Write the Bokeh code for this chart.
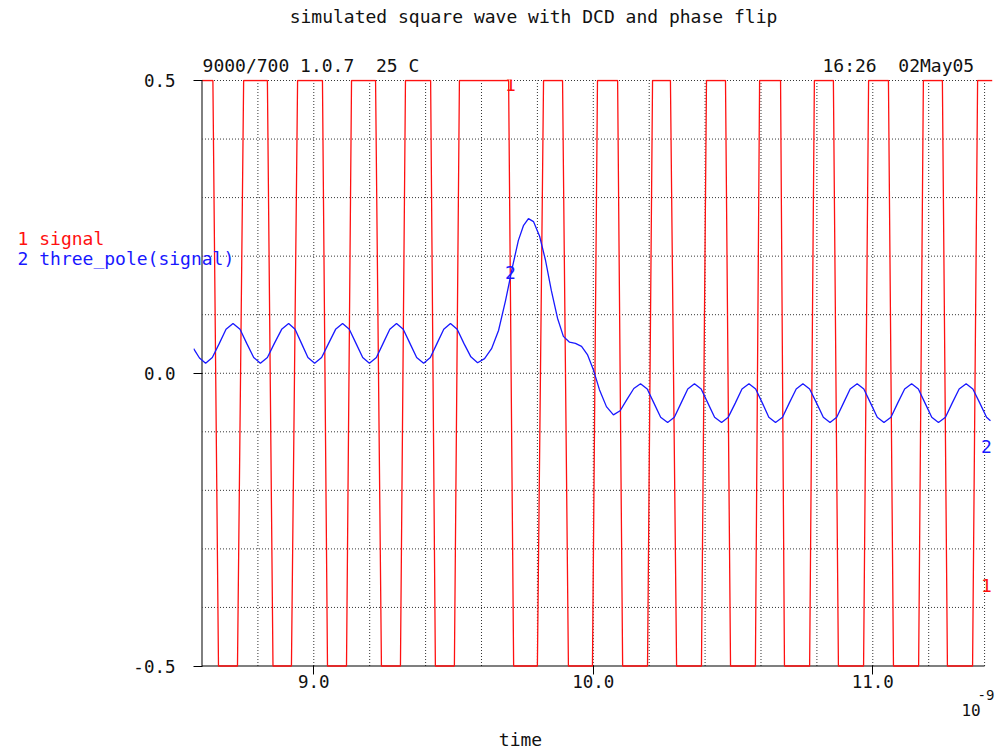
from bokeh.plotting import figure
from bokeh.models import Range1d, FixedTicker, Label, PrintfTickFormatter
from bokeh.embed import file_html
from bokeh.resources import INLINE

# ---- data (time in ns, values in V) ----
signal_t = [8.600, 8.639, 8.659, 8.727, 8.749, 8.834, 8.854, 8.920, 8.942, 9.031,
            9.049, 9.117, 9.135, 9.221, 9.242, 9.310, 9.328, 9.418, 9.435, 9.503,
            9.521, 9.697, 9.715, 9.800, 9.822, 9.890, 9.911, 9.997, 10.015, 10.087,
            10.105, 10.194, 10.212, 10.276, 10.298, 10.387, 10.405, 10.473, 10.491, 10.580,
            10.595, 10.670, 10.684, 10.774, 10.791, 10.859, 10.877, 10.967, 10.985, 11.056,
            11.074, 11.164, 11.181, 11.249, 11.267, 11.357, 11.375, 11.428]
signal_v = [0.5, 0.5, -0.5, -0.5, 0.5, 0.5, -0.5, -0.5, 0.5, 0.5,
            -0.5, -0.5, 0.5, 0.5, -0.5, -0.5, 0.5, 0.5, -0.5, -0.5,
            0.5, 0.5, -0.5, -0.5, 0.5, 0.5, -0.5, -0.5, 0.5, 0.5,
            -0.5, -0.5, 0.5, 0.5, -0.5, -0.5, 0.5, 0.5, -0.5, -0.5,
            0.5, 0.5, -0.5, -0.5, 0.5, 0.5, -0.5, -0.5, 0.5, 0.5,
            -0.5, -0.5, 0.5, 0.5, -0.5, -0.5, 0.5, 0.5]

filtered_t = [8.570, 8.591, 8.613, 8.637, 8.662, 8.686, 8.711, 8.736, 8.760, 8.785,
              8.809, 8.834, 8.859, 8.885, 8.910, 8.933, 8.956, 8.979, 9.003, 9.028,
              9.053, 9.078, 9.103, 9.127, 9.151, 9.175, 9.199, 9.224, 9.248, 9.272,
              9.296, 9.320, 9.344, 9.368, 9.393, 9.417, 9.441, 9.465, 9.489, 9.513,
              9.537, 9.562, 9.586, 9.611, 9.636, 9.661, 9.686, 9.711, 9.732, 9.750,
              9.768, 9.786, 9.808, 9.829, 9.850, 9.872, 9.893, 9.915, 9.936, 9.958,
              9.979, 10.001, 10.022, 10.047, 10.072, 10.096, 10.120, 10.145, 10.169, 10.193,
              10.217, 10.241, 10.266, 10.290, 10.314, 10.338, 10.362, 10.386, 10.410, 10.434,
              10.459, 10.483, 10.508, 10.532, 10.557, 10.581, 10.605, 10.628, 10.652, 10.677,
              10.701, 10.726, 10.750, 10.774, 10.799, 10.823, 10.847, 10.871, 10.895, 10.919,
              10.944, 10.968, 10.992, 11.016, 11.040, 11.065, 11.089, 11.114, 11.139, 11.163,
              11.187, 11.211, 11.235, 11.260, 11.284, 11.309, 11.334, 11.358, 11.383, 11.407,
              11.421]
filtered_v = [0.042, 0.026, 0.017, 0.027, 0.051, 0.075, 0.085, 0.075, 0.051, 0.027,
              0.017, 0.027, 0.051, 0.075, 0.085, 0.075, 0.051, 0.027, 0.017, 0.027,
              0.051, 0.075, 0.085, 0.075, 0.051, 0.027, 0.017, 0.027, 0.051, 0.075,
              0.085, 0.075, 0.051, 0.027, 0.017, 0.027, 0.051, 0.075, 0.085, 0.075,
              0.051, 0.028, 0.018, 0.025, 0.042, 0.073, 0.124, 0.182, 0.227, 0.252,
              0.264, 0.259, 0.234, 0.193, 0.141, 0.094, 0.063, 0.053, 0.051, 0.046,
              0.032, 0.005, -0.028, -0.057, -0.071, -0.064, -0.045, -0.026, -0.018, -0.027,
              -0.051, -0.075, -0.084, -0.075, -0.051, -0.027, -0.018, -0.027, -0.051, -0.075,
              -0.084, -0.075, -0.051, -0.027, -0.018, -0.027, -0.051, -0.075, -0.084, -0.075,
              -0.051, -0.027, -0.018, -0.027, -0.051, -0.075, -0.084, -0.075, -0.051, -0.027,
              -0.018, -0.027, -0.051, -0.075, -0.084, -0.075, -0.051, -0.027, -0.018, -0.027,
              -0.051, -0.075, -0.084, -0.075, -0.051, -0.027, -0.018, -0.027, -0.051, -0.075,
              -0.081]

x_ticks = [9.0, 10.0, 11.0]
y_ticks = [-0.5, 0.0, 0.5]
grid_x = [8.8, 9.0, 9.2, 9.4, 9.6, 9.8, 10.0, 10.2, 10.4, 10.6, 10.8, 11.0, 11.2, 11.4]
grid_y = [-0.4, -0.3, -0.2, -0.1, 0.0, 0.1, 0.2, 0.3, 0.4, 0.5]

NB = "\u00a0"  # keeps the double spaces of the original from collapsing
title_text = "simulated square wave with DCD and phase flip"
info_left = "9000/700 1.0.7 " + NB + "25 C"
info_right = "16:26 " + NB + "02May05"
legend_1 = "1 signal"
legend_2 = "2 three_pole(signal)"
x_title = "time"

FONT = "DejaVu Sans Mono"
FS = "17.5px"
FT = "18px"
RED = "#ff1010"
BLUE = "#1818ff"
INK = "#111111"

p = figure(width=1000, height=753, output_backend="svg", toolbar_location=None,
           x_range=Range1d(8.5696, 11.4283), y_range=Range1d(-0.50256, 0.50171),
           min_border_left=193, min_border_right=8, min_border_top=79, min_border_bottom=86)
p.outline_line_color = None
p.xgrid.grid_line_color = None
p.ygrid.grid_line_color = None

# axes
p.xaxis.ticker = FixedTicker(ticks=x_ticks)
p.yaxis.ticker = FixedTicker(ticks=y_ticks)
p.xaxis.formatter = PrintfTickFormatter(format="%.1f")
p.yaxis.formatter = PrintfTickFormatter(format="%.1f")
for ax in (p.xaxis[0], p.yaxis[0]):
    ax.axis_line_color = None
    ax.minor_tick_line_color = None
    ax.minor_tick_out = 0
    ax.minor_tick_in = 0
    ax.major_tick_line_color = "#000000"
    ax.major_label_text_font = FONT
    ax.major_label_text_font_size = FS
    ax.major_label_text_color = INK
p.xaxis.major_tick_out = 7
p.xaxis.major_tick_in = 2
p.xaxis.major_label_standoff = 0
p.yaxis.major_tick_out = 0
p.yaxis.major_tick_in = 9
p.yaxis.major_label_standoff = 18

# dotted grid
p.segment(x0=grid_x, y0=[-0.5] * len(grid_x), x1=grid_x, y1=[0.5] * len(grid_x),
          line_color="#333333", line_width=1, line_dash="1 2")
p.segment(x0=[8.6] * len(grid_y), y0=grid_y, x1=[11.4] * len(grid_y), y1=grid_y,
          line_color="#333333", line_width=1, line_dash="1 2")

# axis lines
p.segment(x0=[8.6], y0=[-0.5], x1=[8.6], y1=[0.5], line_color="#555555", line_width=1.5)
p.segment(x0=[8.6], y0=[-0.5], x1=[11.4], y1=[-0.5], line_color="#000000", line_width=1.2)

# series
p.line(signal_t, signal_v, line_color=RED, line_width=1.3)
p.line(filtered_t, filtered_v, line_color=BLUE, line_width=1.3)


def lab(x, y, text, side="center", color=INK, align="left", size=FT):
    p.add_layout(Label(x=x, y=y, text=text, text_color=color, text_align=align,
                       text_baseline="middle", text_font=FONT, text_font_size=size), side)


# texts outside the frame live in side panels (not clipped), placed by data coords
lab(9.786, 0.6093, title_text, side="above", align="center")
lab(8.602, 0.5248, info_left, side="above")
lab(10.820, 0.5248, info_right, side="above")
lab(7.940, 0.1968, legend_2, side="below", color=BLUE)
lab(11.3173, -0.5760, "10", side="below", size="16px")
lab(11.3746, -0.5487, "-9", side="below", size="14px")
lab(7.940, 0.2310, legend_1, side="left", color=RED)
lab(9.7395, -0.6255, x_title, side="left", align="center")
# curve markers inside the frame
lab(9.7038, 0.4935, "1", color=RED, align="center")
lab(9.7038, 0.1721, "2", color=BLUE, align="center")
lab(11.4068, -0.3625, "1", color=RED, align="center")
lab(11.4068, -0.1251, "2", color=BLUE, align="center")

open("out.html", "w").write(file_html(p, INLINE))
